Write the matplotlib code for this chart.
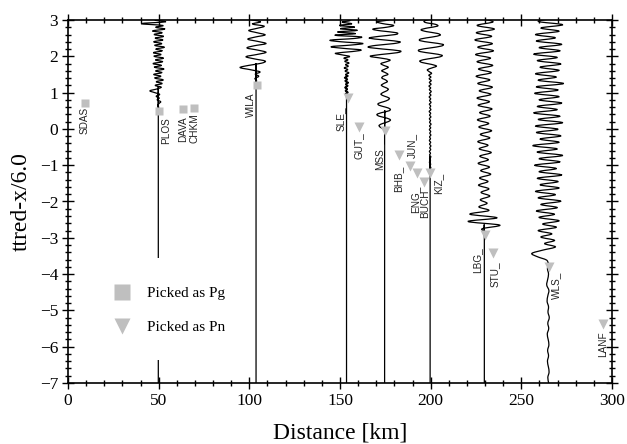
import numpy as np
import matplotlib
matplotlib.use('Agg')
import matplotlib.pyplot as plt
from matplotlib.lines import Line2D
from matplotlib.path import Path
from matplotlib.patches import PathPatch, Rectangle
from matplotlib.ticker import MultipleLocator

plt.rcParams['font.family'] = ['Liberation Serif', 'DejaVu Serif']

# picks: station, distance [km], reduced time [s]
pg_names = ['SDAS', 'PLOS', 'DAVA', 'CHKM', 'WILA']
pg_dist = [9.4, 50.2, 63.4, 69.5, 104.2]
pg_time = [0.71, 0.50, 0.54, 0.58, 1.21]

pn_names = ['SLE_', 'GUT_', 'MSS_', 'BHB_', 'JUN_', 'ENG_', 'BUCH', 'KIZ_',
            'LBG_', 'STU_', 'WLS_', 'LANF']
pn_dist = [154.3, 160.5, 174.9, 182.3, 188.4, 192.7, 196.5, 199.7,
           230.0, 234.6, 265.5, 295.3]
pn_time = [0.86, 0.06, -0.05, -0.72, -1.02, -1.22, -1.45, -1.22,
           -2.92, -3.41, -3.81, -5.37]

# seismograms: trace distance, onset time, sample step, offsets [km]
plos_dist, plos_t0, plos_dt = 49.8, 0.55, 0.05
plos_amp = [0, 0.2, -0.2, 0.4, 1.3, -0.6, 0.5, -1.2, 0.8, -2.0,
            -4.6, -0.8, 1.6, -1.8, 2.2, -1.2, 2.8, -2.0, 1.5, -2.6,
            2.0, -1.5, 3.2, -2.2, 1.8, -3.0, 2.4, -1.6, 2.9, -2.4,
            1.6, -2.8, 2.2, -1.4, 3.4, -2.0, 2.0, -2.6, 2.6, -1.8,
            3.0, -2.4, 2.2, -3.2, 3.6, -1.5, 2.5, -9.5, 4.0, -2.0, 3.0]

wila_dist, wila_t0, wila_dt = 103.7, 1.21, 0.06
wila_amp = [0, 0, 0.3, -0.6, 1.5, -0.4, 2.2, -3.0, -8.8, -4.0,
            3.0, 5.0, -1.0, -5.5, 0.5, 5.5, 1.0, -5.0, -1.0, 5.5,
            1.0, -4.5, -0.5, 5.0, 0.5, -4.0, 0.5, 4.5, -2.0, 2.5, -3.0]

sle_dist, sle_t0, sle_dt = 153.6, 0.87, 0.045
sle_amp = [0, 0.6, -0.6, 0.9, -0.7, 0.5, -1.0, 0.8, -0.4, 1.1,
           -0.9, 0.6, -1.2, 0.9, -0.5, 1.3, -0.8, 0.7, -1.3, 1.0,
           -0.6, 1.4, -1.0, 0.8, -1.5, 1.8, -2.5, -6.0, 3.0, 8.0,
           -2.0, -8.5, 2.5, 9.0, -3.0, -9.0, 4.0, 8.0, -6.5, 5.0,
           -5.0, 6.0, -3.5, 4.5, -4.0, 3.0, -2.5, 2.0, -1.5]

mss_dist, mss_t0, mss_dt = 174.6, -0.05, 0.05
mss_amp = [0, -0.8, -2.5, -3.0, -1.0, 2.0, 3.2, 1.0, -3.0, -4.2,
           -1.5, 2.5, 3.0, 0.5, -3.0, -3.5, -0.5, 2.0, 2.5, 0.0,
           -2.0, -1.0, 1.2, 2.0, 0.0, -1.8, -0.5, 1.5, 0.5, -1.5,
           -0.8, 1.8, 0.4, -1.6, 0.3, 2.0, -0.5, -2.0, 1.0, 3.0,
           -2.0, -8.0, -2.0, 7.0, 8.5, -1.0, -9.0, -5.0, 5.0, 8.5,
           0.0, -8.5, -3.0, 6.0, 6.5, -2.0, -6.5, 1.0, 5.0, -1.0,
           -4.0, 2.0, 3.0]

kiz_dist, kiz_t0, kiz_dt = 199.7, -1.22, 0.05
kiz_amp = [0,
           0.3, -0.3, 0.4, -0.2, 0.3, -0.4, 0.2, -0.3, 0.4, -0.3,
           0.2, -0.4, 0.3, -0.2, 0.4, -0.3, 0.3, -0.4, 0.2, -0.3,
           0.4, -0.2, 0.3, -0.4, 0.3, -0.3, 0.5, -0.3, 0.2, -0.4,
           0.4, -0.3, 0.3, -0.5, 0.4, -0.2, 0.3, -0.4, 0.5, -0.3,
           0.3, -0.5, 0.4, -0.3, 0.6, -0.4, 0.3, -0.6, 0.5, -0.4,
           0.6, -0.5, 0.4, -0.7, 0.8, -0.6,
           -1.5, 1.0, 3.5, 0.5, -4.5, -5.5, -1.0, 5.0, 6.5, 1.0,
           -5.5, -6.0, 0.0, 6.0, 7.0, 0.5, -5.5, -5.0, 1.0, 5.5,
           4.0, -2.0, -5.0, -1.5, 4.0, 3.0, -2.5, -3.0, 1.5]

lbg_dist, lbg_t0, lbg_dt = 229.6, -2.95, 0.1
lbg_amp = [0, 1.0, -1.2, 8.5, -9.0, 7.0, -8.0, 2.5, -3.0, 1.5,
           -2.2, 3.0, -1.8, 2.5, -3.2, 2.0, -2.6, 3.5, -2.0, 2.8,
           -3.4, 2.2, -2.5, 3.8, -2.8, 2.0, -3.6, 3.0, -2.2, 4.0,
           -3.0, 2.4, -3.8, 3.2, -2.6, 4.2, -3.4, 2.8, -4.0, 3.6,
           -2.8, 4.4, -3.6, 3.0, -4.5, 3.8, -3.2, 4.6, -4.0, 3.4,
           -4.8, 5.0, -3.6, 4.4, -5.2, 4.0, -4.4, 5.5, -4.0, 4.8, -3.5]

wls_dist, wls_t0, wls_dt = 264.8, -3.7, 0.09
wls_amp = [0, -1.0, -6.0, -9.0, -3.0, 4.0, -2.0, 3.5, -4.0, 2.0, -5.5,
           4.5, -3.0, 6.0, -5.0, 3.5, -6.5, 5.0, -4.0, 7.0,
           -5.5, 4.0, -7.0, 6.0, -4.5, 5.5, -6.0, 7.5, -5.0, 4.5,
           -7.5, 6.5, -5.0, 8.0, -6.0, 5.0, -8.5, 6.0, -4.5, 7.0,
           -6.5, 5.5, -7.0, 8.0, -5.5, 6.5, -8.0, 5.0, -6.0, 7.5,
           -5.0, 6.0, -7.5, 5.5, -6.5, 8.5, -5.5, 4.5, -7.0, 6.0,
           -4.5, 7.0, -6.0, 5.0, -8.0, 6.5, -5.0, 7.5, -6.5, 4.0,
           -7.0, 6.0, -4.0, 8.0, -5.5, 4.5]
# noise before the WLS onset, from -7 s
wls_pre_t0, wls_pre_dt = -7.0, 0.15
wls_pre = [0.3, -0.2, 0.5, 0.1, -0.4, 0.2, -0.3, 0.4, 0.0, -0.5, 0.3, -0.2,
           0.6, -0.1, 0.2, -0.6, -0.2, 0.4, -0.8, -0.3, 0.2, -0.4, 0]

traces = [(plos_dist, plos_t0, plos_dt, plos_amp),
          (wila_dist, wila_t0, wila_dt, wila_amp),
          (sle_dist, sle_t0, sle_dt, sle_amp),
          (mss_dist, mss_t0, mss_dt, mss_amp),
          (kiz_dist, kiz_t0, kiz_dt, kiz_amp),
          (lbg_dist, lbg_t0, lbg_dt, lbg_amp),
          (wls_dist, wls_t0, wls_dt, wls_amp)]

# label nudges in pixels (dx, dy of text top below marker)
lab_off = {'SDAS': (0, 4), 'PLOS': (7, 6), 'DAVA': (0, 7), 'CHKM': (0, 5),
           'WILA': (-6, 8), 'SLE_': (-7, 9), 'GUT_': (0, 6), 'MSS_': (-6, 12),
           'BHB_': (0, 11), 'JUN_': (2, -33), 'ENG_': (-2, 12), 'BUCH': (1, 8),
           'KIZ_': (8, 0), 'LBG_': (-8, 12), 'STU_': (1, 9), 'WLS_': (7, 4),
           'LANF': (0, 8)}

pick_col = '#bfbfbf'


def smooth_path(x, y):
    # draw the polyline as a smooth curve through its vertices
    p = np.column_stack([x, y])
    pad = np.vstack([p[0], p, p[-1]])
    verts = [p[0]]
    codes = [Path.MOVETO]
    for i in range(len(p) - 1):
        p0, p1, p2, p3 = pad[i], pad[i+1], pad[i+2], pad[i+3]
        verts += [p1 + (p2 - p0)/6, p2 - (p3 - p1)/6, p2]
        codes += [Path.CURVE4]*3
    return Path(verts, codes)


fig = plt.figure(figsize=(6.27, 4.44), dpi=100)
ax = fig.add_axes([68/627, 61/444, 544/627, 363/444])

for dist, t0, dt, amp in traces:
    y = t0 + dt*np.arange(len(amp))
    x = dist + np.array(amp)
    if dist == wls_dist:
        yp = wls_pre_t0 + wls_pre_dt*np.arange(len(wls_pre))
        xp = dist + np.array(wls_pre)
        x = np.concatenate([xp, x])
        y = np.concatenate([yp, y])
    else:
        x = np.concatenate([[dist, dist], x])
        y = np.concatenate([[-7.0, t0 - 0.02], y])
    ax.add_patch(PathPatch(smooth_path(x, y), fc='none', ec='k', lw=0.9, zorder=2))

ax.plot(pg_dist, pg_time, 's', color=pick_col, ms=5.5, mec='none', zorder=3)
ax.plot(pn_dist, pn_time, 'v', color=pick_col, ms=6.5, mec='none', zorder=3)

for names, xs, ys in [(pg_names, pg_dist, pg_time), (pn_names, pn_dist, pn_time)]:
    for n, xv, yv in zip(names, xs, ys):
        dx, dy = lab_off[n]
        ax.annotate(n, (xv, yv), xytext=(dx*0.72, -dy*0.72), textcoords='offset points',
                    rotation=90, ha='center', va='top', fontsize=7.2,
                    family=['Liberation Sans', 'DejaVu Sans'], color='#222222', zorder=4)

ax.set_xlim(0, 300)
ax.set_ylim(-7, 3)
ax.xaxis.set_major_locator(MultipleLocator(50))
ax.xaxis.set_minor_locator(MultipleLocator(10))
ax.yaxis.set_major_locator(MultipleLocator(1))
ax.yaxis.set_minor_locator(MultipleLocator(0.2))
ax.tick_params(which='both', direction='inout', top=True, right=True, width=1, colors='k')
ax.tick_params(which='major', length=8, labelsize=12.5, pad=3)
ax.tick_params(which='minor', length=4)
for s in ax.spines.values():
    s.set_linewidth(1.2)

ax.set_xlabel('Distance [km]', fontsize=17, labelpad=10)
ax.set_ylabel('ttred-x/6.0', fontsize=17, labelpad=6)

# white backing behind the legend (hides the PLOS trace there)
ax.add_patch(Rectangle((8, -6.37), 84, 2.81, fc='white', ec='none', zorder=4.5))

handles = [Line2D([], [], ls='none', marker='s', color=pick_col, ms=11, mec='none'),
           Line2D([], [], ls='none', marker='v', color=pick_col, ms=12, mec='none')]
leg = ax.legend(handles, ['Picked as Pg', 'Picked as Pn'], loc='upper left',
                bbox_to_anchor=(25.7, -4.34), bbox_transform=ax.transData,
                borderaxespad=0, borderpad=0, labelspacing=1.35, handlelength=1.0,
                handletextpad=1.1, fontsize=11, frameon=False)
leg.set_zorder(5)

fig.savefig('out.png', dpi=100)
